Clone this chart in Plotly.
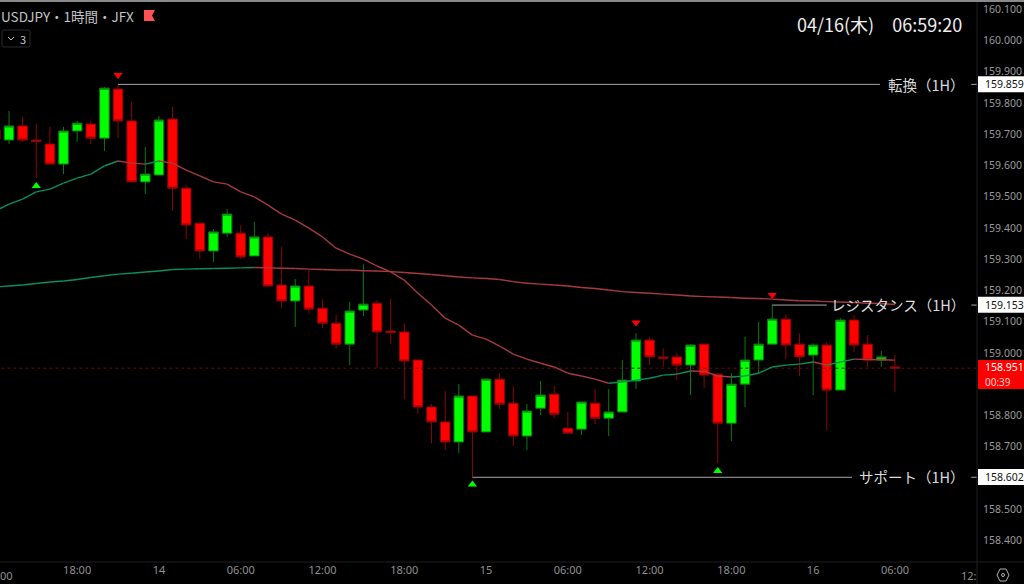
import plotly.graph_objects as go

# ---- data ----
hours = list(range(-1, 66))
opens = [159.713,159.681,159.726,159.681,159.668,159.604,159.710,159.732,159.687,159.844,159.742,159.547,159.569,159.748,159.527,159.415,159.326,159.383,159.383,159.310,
         159.371,159.217,159.166,159.214,159.143,159.095,159.028,159.137,159.159,159.070,159.067,158.977,158.827,158.779,158.715,158.862,158.747,158.916,158.839,158.734,
         158.823,158.868,158.759,158.756,158.839,158.791,158.811,158.910,159.041,158.987,158.987,158.961,159.028,158.932,158.775,158.900,158.977,159.028,159.108,159.028,
         158.993,159.025,158.881,159.105,159.028,158.977,158.955]
highs = [159.713,159.774,159.755,159.732,159.723,159.723,159.742,159.742,159.851,159.860,159.803,159.659,159.758,159.787,159.537,159.415,159.396,159.460,159.409,159.419,
         159.383,159.339,159.236,159.268,159.172,159.121,159.163,159.284,159.169,159.172,159.095,158.980,158.836,158.878,158.900,158.862,158.919,158.935,158.894,158.836,
         158.910,158.894,158.811,158.843,158.884,158.884,158.977,159.063,159.051,159.015,159.000,159.028,159.028,158.935,158.935,159.051,159.099,159.153,159.124,159.063,
         159.031,159.035,159.111,159.121,159.057,159.006,158.993]
lows = [159.684,159.668,159.675,159.559,159.604,159.572,159.675,159.668,159.646,159.687,159.547,159.508,159.569,159.454,159.364,159.300,159.291,159.371,159.300,159.310,
        159.211,159.143,159.083,159.127,159.079,159.012,158.961,159.118,158.951,159.028,158.852,158.804,158.711,158.689,158.679,158.603,158.747,158.820,158.702,158.689,
        158.801,158.791,158.743,158.737,158.772,158.734,158.811,158.884,158.961,158.955,158.913,158.865,158.887,158.647,158.718,158.827,158.932,159.028,158.980,158.926,
        158.865,158.753,158.881,159.003,158.955,158.955,158.875]
closes = [159.684,159.726,159.681,159.676,159.604,159.710,159.735,159.687,159.847,159.742,159.547,159.572,159.745,159.527,159.409,159.326,159.387,159.444,159.307,159.371,
          159.214,159.166,159.214,159.140,159.095,159.028,159.134,159.156,159.067,159.065,158.974,158.827,158.779,158.715,158.862,158.747,158.916,158.836,158.734,158.814,
          158.865,158.804,158.743,158.843,158.791,158.811,158.913,159.041,158.987,158.983,158.961,159.025,158.929,158.775,158.900,158.977,159.028,159.108,159.025,158.987,
          159.025,158.881,159.105,159.025,158.977,158.987,158.951]
ma_fast = [159.454,159.476,159.492,159.515,159.524,159.543,159.559,159.572,159.598,159.614,159.607,159.604,159.614,159.607,159.585,159.566,159.547,159.540,159.515,159.499,
           159.473,159.444,159.425,159.399,159.371,159.335,159.316,159.300,159.278,159.259,159.233,159.191,159.153,159.111,159.089,159.057,159.044,159.022,158.996,158.980,
           158.967,158.955,158.935,158.926,158.916,158.903,158.907,158.913,158.919,158.929,158.932,158.942,158.941,158.926,158.923,158.926,158.935,158.955,158.961,158.964,
           158.971,158.961,158.971,158.980,158.979,158.978,158.977]
ma_slow = [159.211,159.214,159.217,159.222,159.227,159.230,159.235,159.241,159.247,159.252,159.255,159.259,159.262,159.267,159.268,159.269,159.270,159.271,159.272,159.273,
           159.272,159.271,159.270,159.268,159.267,159.265,159.265,159.263,159.262,159.260,159.257,159.254,159.251,159.247,159.243,159.240,159.238,159.235,159.228,159.223,
           159.220,159.217,159.214,159.209,159.206,159.201,159.196,159.193,159.191,159.188,159.185,159.182,159.180,159.179,159.177,159.175,159.174,159.172,159.169,159.167,
           159.166,159.164,159.163,159.161,159.159,159.158,159.155]
level_names = ["転換（1H）", "レジスタンス（1H）", "サポート（1H）"]
level_prices = [159.859, 159.153, 158.602]
level_starts = [8, 56, 34]
level_ends = [63.9, 60.0, 61.85]
level_labels = ["159.859", "159.153", "158.602"]
last_price = 158.951
peak_hours = [8, 46, 56]
peak_prices = [159.889, 159.097, 159.185]
trough_hours = [2, 34, 52]
trough_prices = [159.534, 158.579, 158.622]
tick_hours = [5, 11, 17, 23, 29, 35, 41, 47, 53, 59, 65]
tick_labels = ["18:00", "14", "06:00", "12:00", "18:00", "15", "06:00", "12:00", "18:00", "16", "06:00"]
price_ticks = [158.4, 158.5, 158.7, 158.8, 159.0, 159.1, 159.2, 159.3, 159.4, 159.5, 159.6, 159.7, 159.8, 159.9, 160.0, 160.1]

W, H = 1024, 584
PLOT_R, PLOT_B = 977, 562
px = lambda v: v / W
py = lambda v: 1 - v / H
UP_MA, DN_MA = "#0c8f5c", "#a83a3e"

def split_by_direction(xs, ys):
    up_x, up_y, dn_x, dn_y = [], [], [], []
    for i in range(1, len(xs)):
        tx, ty = (up_x, up_y) if ys[i] > ys[i - 1] else (dn_x, dn_y)
        tx += [xs[i - 1], xs[i], None]
        ty += [ys[i - 1], ys[i], None]
    return up_x, up_y, dn_x, dn_y

fig = go.Figure()
fig.add_trace(go.Scatter(x=[hours[0], 75], y=[last_price, last_price], mode="lines",
                         line=dict(color="#5c0f0f", width=1, dash="dot")))
for series in (ma_slow, ma_fast):
    ux, uy, dx, dy = split_by_direction(hours, series)
    fig.add_trace(go.Scatter(x=ux, y=uy, mode="lines", line=dict(color=UP_MA, width=1.4)))
    fig.add_trace(go.Scatter(x=dx, y=dy, mode="lines", line=dict(color=DN_MA, width=1.4)))
for p, s, e in zip(level_prices, level_starts, level_ends):
    fig.add_trace(go.Scatter(x=[s, e], y=[p, p], mode="lines", line=dict(color="#a6a6a6", width=1)))
    fig.add_trace(go.Scatter(x=[70.6, 71.1], y=[p, p], mode="lines", line=dict(color="#a6a6a6", width=1)))
fig.add_trace(go.Candlestick(x=hours, open=opens, high=highs, low=lows, close=closes, whiskerwidth=0,
                             increasing=dict(line=dict(color="#0b7a0b", width=1), fillcolor="#00ff00"),
                             decreasing=dict(line=dict(color="#8c0505", width=1), fillcolor="#ff0000")))
fig.add_trace(go.Scatter(x=peak_hours, y=peak_prices, mode="markers",
                         marker=dict(symbol="triangle-down", size=8, color="#ff0000", line_width=0)))
fig.add_trace(go.Scatter(x=trough_hours, y=trough_prices, mode="markers",
                         marker=dict(symbol="triangle-up", size=8, color="#00ff00", line_width=0)))

shapes = [
    dict(type="rect", xref="paper", yref="paper", x0=0, x1=1, y0=py(2), y1=1, fillcolor="#8a8a8a", line_width=0),
    dict(type="line", xref="paper", yref="paper", x0=0, x1=1, y0=py(PLOT_B), y1=py(PLOT_B), line=dict(color="#1f1f24", width=1)),
    dict(type="line", xref="paper", yref="paper", x0=px(PLOT_R), x1=px(PLOT_R), y0=0, y1=py(2), line=dict(color="#1f1f24", width=1)),
    dict(type="path", xref="paper", yref="paper", fillcolor="#ff5252", line_width=0,
         path=f"M {px(144)} {py(10)} L {px(155)} {py(10)} L {px(152)} {py(15.5)} L {px(155)} {py(21)} L {px(144)} {py(21)} Z"),
    dict(type="path", xref="paper", yref="paper", line=dict(color="#2a2a2e", width=1),
         path=f"M {px(4)} {py(30)} L {px(28)} {py(30)} Q {px(30)} {py(30)} {px(30)} {py(32)} L {px(30)} {py(45)} Q {px(30)} {py(47)} {px(28)} {py(47)} L {px(4)} {py(47)} Q {px(2)} {py(47)} {px(2)} {py(45)} L {px(2)} {py(32)} Q {px(2)} {py(30)} {px(4)} {py(30)} Z"),
    dict(type="path", xref="paper", yref="paper", line=dict(color="#c8c8c8", width=1),
         path=f"M {px(8)} {py(37)} L {px(11)} {py(40)} L {px(14)} {py(37)}"),
    dict(type="path", xref="paper", yref="paper", line=dict(color="#b0b0b0", width=1),
         path=f"M {px(1000)} {py(569)} L {px(1006)} {py(569)} L {px(1009)} {py(575)} L {px(1006)} {py(581)} L {px(1000)} {py(581)} L {px(997)} {py(575)} Z"),
    dict(type="circle", xref="paper", yref="paper", x0=px(1001.5), x1=px(1004.5), y0=py(576.5), y1=py(573.5), line=dict(color="#b0b0b0", width=1)),
    dict(type="rect", xref="paper", yref="paper", x0=px(978), x1=1, y0=py(389), y1=py(360), fillcolor="#ff0000", line_width=0),
]
for p in level_prices:
    yc = 9 + (160.1 - p) * 312.4
    shapes.append(dict(type="rect", xref="paper", yref="paper", x0=px(978), x1=1,
                       y0=py(yc + 8), y1=py(yc - 8), fillcolor="#ffffff", line_width=0))

JP = "Noto Sans CJK JP"
def note(text, x, y, size, color, anchor="left", family=JP):
    return dict(text=text, xref="paper", yref="paper", x=px(x), y=py(y), xanchor=anchor, yanchor="middle",
                showarrow=False, font=dict(family=family, size=size, color=color), borderpad=0, borderwidth=0)

annotations = [
    note("USDJPY・1時間・JFX", 1, 16, 13.5, "#c4c4c4"),
    note("3", 20, 38.5, 11, "#c8c8c8"),
    note("04/16(木)　06:59:20", 962, 24, 18, "#eeeeee", "right"),
    note("12:", 977, 575, 11, "#8f8f8f", "right", "Noto Sans"),
    note("158.951", 985, 366.5, 10.5, "#ffffff", family="Noto Sans"),
    note("00:39", 985, 381.5, 10, "#ffd0d0", family="Noto Sans"),
    note("00", 13, 575, 11, "#8f8f8f", "right", "Noto Sans"),
]
for name, p, lab in zip(level_names, level_prices, level_labels):
    y = 9 + (160.1 - p) * 312.4
    annotations.append(note(name, 965, y, 14.5, "#dcdcdc", "right"))
    annotations.append(note(lab, 985, y, 10.5, "#111111", family="Noto Sans"))

fig.update_layout(
    width=W, height=H, margin=dict(l=0, r=0, t=0, b=0, autoexpand=False), paper_bgcolor="#000000", plot_bgcolor="#000000",
    showlegend=False, hovermode=False, boxgap=0.0,
    xaxis=dict(domain=[0, PLOT_R / W], range=[-0.66, 71.02], rangeslider=dict(visible=False), showgrid=False, zeroline=False,
               tickmode="array", tickvals=tick_hours, ticktext=tick_labels, ticks="", showline=False,
               tickfont=dict(family="Noto Sans", size=11, color="#8f8f8f"), anchor="y"),
    yaxis=dict(domain=[(H - PLOT_B) / H, 1], range=[158.331, 160.129], side="right", showgrid=False, zeroline=False,
               tickmode="array", tickvals=price_ticks, tickformat=".3f", ticks="outside", ticklen=3, tickcolor="#000000",
               tickfont=dict(family="Noto Sans", size=10.5, color="#9a9a9a"), showline=False, anchor="x"),
    shapes=shapes, annotations=annotations,
)
fig.write_html("out.html", config=dict(displayModeBar=False),
               post_script="document.documentElement.style.overflow='hidden';document.body.style.margin='0';document.body.style.overflow='hidden';document.body.style.background='#000';var d=document.querySelector('.plotly-graph-div');d.style.display='block';d.parentElement.style.display='block';d.parentElement.style.height='584px';d.parentElement.style.overflow='hidden';")
